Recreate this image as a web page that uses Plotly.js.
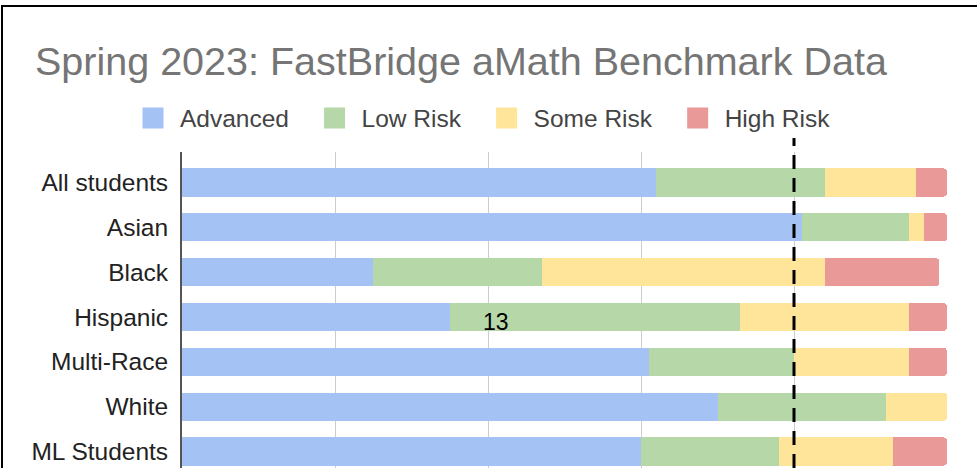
<!DOCTYPE html>
<html>
<head>
<meta charset="utf-8">
<script src="https://cdn.plot.ly/plotly-3.0.1.min.js"></script>
<style>
  html, body { margin: 0; padding: 0; background: #fff; }
  #chart { width: 977px; height: 468px; position: absolute; left: 0; top: 0; }
  #frame { position: absolute; left: 1px; top: 5px; width: 976px; height: 463px;
           border-top: 2px solid #000; border-left: 2px solid #000; box-sizing: border-box;
           pointer-events: none; }
</style>
</head>
<body>
<div id="chart"></div>
<div id="frame"></div>
<script>
// ---- data (percent of students) ----
const groups = ["All students", "Asian", "Black", "Hispanic", "Multi-Race", "White", "ML Students"];
const advanced  = [62, 81, 25, 35, 61, 70, 60];
const lowRisk   = [22, 14, 22, 38, 19, 22, 18];
const someRisk  = [12,  2, 37, 22, 15,  8, 15];
const highRisk  = [ 4,  3, 15,  5,  5,  0,  7];
const seriesNames = ["Advanced", "Low Risk", "Some Risk", "High Risk"];
const seriesColors = ["#a4c2f4", "#b6d7a8", "#ffe599", "#ea9999"];
const benchmark = 80;
const noteText = "13";
const noteX = 41;
const noteGroup = "Hispanic";

const seriesValues = [advanced, lowRisk, someRisk, highRisk];
const FONT = "Liberation Sans, Arial, sans-serif";
const PAD = "\u00a0\u00a0";

const traces = [];
seriesValues.forEach((vals, i) => {
  traces.push({
    type: "bar", orientation: "h",
    y: groups, x: vals, name: seriesNames[i],
    marker: { color: seriesColors[i] },
    showlegend: false, hoverinfo: "none"
  });
});
// legend entries (larger square swatches)
seriesNames.forEach((n, i) => {
  traces.push({
    type: "scatter", mode: "markers", x: [null], y: [null], name: n + PAD,
    marker: { symbol: "square", size: 16, color: seriesColors[i],
              line: { color: seriesColors[i], width: 5 } },
    showlegend: true, hoverinfo: "none"
  });
});

const layout = {
  width: 977, height: 468,
  margin: { l: 182, r: 30, t: 152, b: 0 },
  paper_bgcolor: "#ffffff", plot_bgcolor: "#ffffff",
  barmode: "stack", bargap: 0.37, barcornerradius: 4,
  font: { family: FONT },
  title: {
    text: "Spring 2023: FastBridge aMath Benchmark Data",
    font: { family: FONT, size: 39.5, color: "#757575" },
    xref: "container", x: 35 / 977, xanchor: "left",
    yref: "container", y: 1 - 61 / 468, yanchor: "middle"
  },
  showlegend: true,
  legend: {
    orientation: "h", xref: "container", yref: "container",
    x: 126 / 977, xanchor: "left", y: 1 - 118 / 468, yanchor: "middle",
    font: { family: FONT, size: 24.5, color: "#444444" },
    itemwidth: 44, traceorder: "normal", bgcolor: "rgba(0,0,0,0)"
  },
  xaxis: {
    range: [0, 100], dtick: 20, tick0: 0, showgrid: true, gridcolor: "#cccccc", gridwidth: 1,
    showticklabels: false, zeroline: false, showline: false, fixedrange: true
  },
  yaxis: {
    type: "category", categoryarray: groups, categoryorder: "array",
    range: [6.368, -0.68], showgrid: false, zeroline: false,
    showline: true, linecolor: "#555555", linewidth: 2,
    ticks: "", ticklabelstandoff: 7,
    tickfont: { family: FONT, size: 24.5, color: "#222222" }, fixedrange: true
  },
  shapes: [{
    type: "line", xref: "x", x0: benchmark, x1: benchmark,
    yref: "paper", y0: 0, y1: 1.044,
    line: { color: "#000000", width: 3, dash: "14px,9px" }, layer: "above"
  }],
  annotations: [{
    text: noteText, x: noteX, y: noteGroup, xref: "x", yref: "y",
    showarrow: false, yshift: -5,
    font: { family: FONT, size: 23, color: "#000000" }
  }]
};

Plotly.newPlot("chart", traces, layout, { staticPlot: true, displayModeBar: false });
</script>
</body>
</html>
